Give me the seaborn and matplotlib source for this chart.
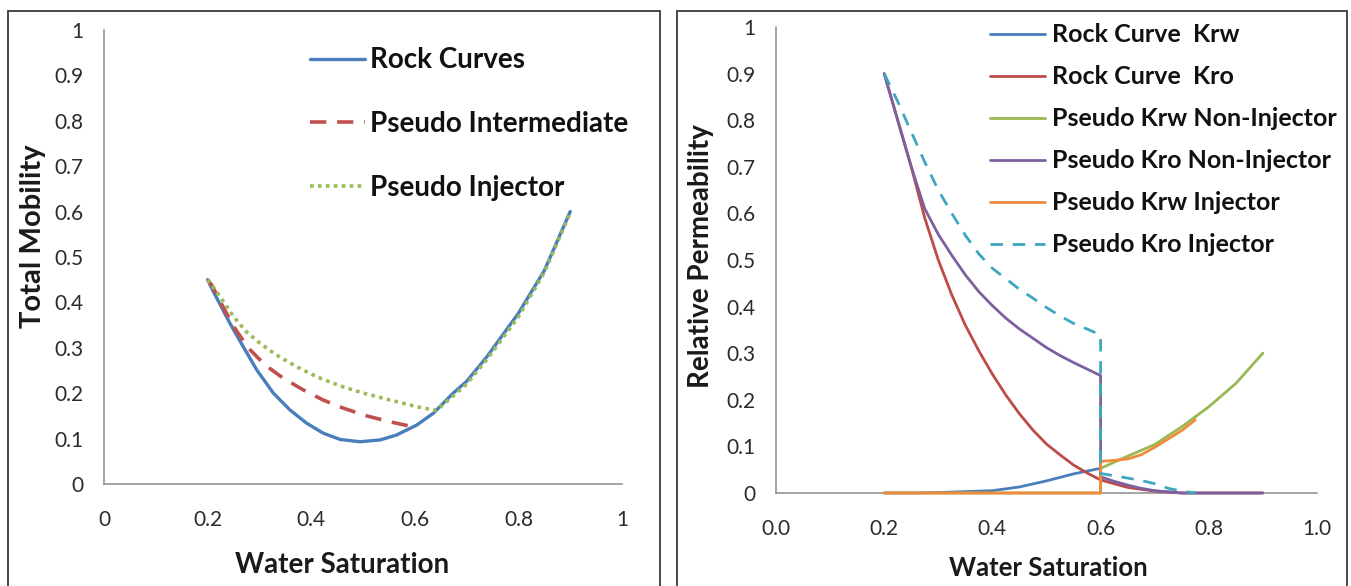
import matplotlib
matplotlib.use("Agg")
import matplotlib.pyplot as plt
from matplotlib.patches import Rectangle
import numpy as np
import pandas as pd
import seaborn as sns

# ---------------- Total mobility vs water saturation ----------------
sw_rock = [0.2, 0.211, 0.243, 0.269, 0.295, 0.327, 0.359, 0.391, 0.423, 0.456, 0.494,
           0.533, 0.565, 0.604, 0.636, 0.674, 0.7, 0.739, 0.8, 0.85, 0.9]
mob_rock = [0.45, 0.424, 0.354, 0.302, 0.251, 0.2, 0.163, 0.134, 0.112, 0.098, 0.093,
            0.097, 0.108, 0.13, 0.156, 0.2, 0.226, 0.28, 0.376, 0.47, 0.6]

sw_inter = [0.2, 0.208, 0.23, 0.25, 0.279, 0.311, 0.346, 0.385, 0.423, 0.462, 0.507, 0.552, 0.6]
mob_inter = [0.45, 0.438, 0.39, 0.347, 0.299, 0.262, 0.233, 0.207, 0.185, 0.167, 0.15, 0.137, 0.125]

sw_inj = [0.2, 0.224, 0.25, 0.275, 0.301, 0.333, 0.372, 0.411, 0.456, 0.501, 0.552, 0.604,
          0.642, 0.674, 0.7, 0.739, 0.8, 0.85, 0.9]
mob_inj = [0.45, 0.413, 0.369, 0.335, 0.31, 0.284, 0.258, 0.236, 0.216, 0.2, 0.185, 0.17,
           0.162, 0.194, 0.22, 0.274, 0.368, 0.466, 0.597]

# ---------------- Relative permeability curves ----------------
sw_krw_rock = [0.2, 0.25, 0.3, 0.35, 0.4, 0.45, 0.5, 0.55, 0.6]
krw_rock = [0.0, 0.0, 0.001, 0.003, 0.005, 0.013, 0.026, 0.041, 0.053]

sw_kro_rock = [0.2, 0.225, 0.25, 0.275, 0.3, 0.325, 0.35, 0.375, 0.4, 0.425, 0.45, 0.475,
               0.5, 0.525, 0.55, 0.575, 0.6, 0.65, 0.7, 0.75, 0.8, 0.9]
kro_rock = [0.9, 0.8, 0.7, 0.59, 0.5, 0.425, 0.36, 0.305, 0.255, 0.21, 0.17, 0.135,
            0.105, 0.082, 0.06, 0.043, 0.028, 0.012, 0.004, 0.0, 0.0, 0.0]

sw_krw_noninj = [0.2, 0.3, 0.4, 0.5, 0.6, 0.6, 0.65, 0.7, 0.75, 0.8, 0.85, 0.9]
krw_noninj = [0.0, 0.0, 0.0, 0.0, 0.0, 0.053, 0.079, 0.104, 0.142, 0.185, 0.235, 0.3]

sw_kro_noninj = [0.2, 0.225, 0.25, 0.275, 0.3, 0.325, 0.35, 0.375, 0.4, 0.425, 0.45, 0.475,
                 0.5, 0.525, 0.55, 0.575, 0.6, 0.6, 0.625, 0.65, 0.675, 0.7, 0.75, 0.8, 0.85, 0.9]
kro_noninj = [0.9, 0.8, 0.7, 0.61, 0.555, 0.51, 0.468, 0.432, 0.402, 0.375, 0.352, 0.332,
              0.312, 0.295, 0.28, 0.266, 0.252, 0.035, 0.025, 0.017, 0.01, 0.005, 0.0, 0.0, 0.0, 0.0]

sw_krw_inj = [0.2, 0.3, 0.4, 0.5, 0.6, 0.6, 0.625, 0.65, 0.675, 0.7, 0.725, 0.75, 0.775]
krw_inj = [0.0, 0.0, 0.0, 0.0, 0.0, 0.068, 0.07, 0.073, 0.082, 0.098, 0.116, 0.134, 0.157]

sw_kro_inj = [0.2, 0.225, 0.25, 0.275, 0.3, 0.325, 0.35, 0.375, 0.4, 0.425, 0.45, 0.475,
              0.5, 0.525, 0.55, 0.575, 0.6, 0.6, 0.625, 0.65, 0.675, 0.7, 0.725, 0.75, 0.775]
kro_inj = [0.9, 0.84, 0.775, 0.71, 0.65, 0.6, 0.553, 0.513, 0.482, 0.46, 0.437, 0.418,
           0.398, 0.38, 0.364, 0.352, 0.339, 0.042, 0.037, 0.032, 0.027, 0.02, 0.01, 0.004, 0.0]

left_ticks = [0, 0.1, 0.2, 0.3, 0.4, 0.5, 0.6, 0.7, 0.8, 0.9, 1]
left_ticklabels = ["0", "0.1", "0.2", "0.3", "0.4", "0.5", "0.6", "0.7", "0.8", "0.9", "1"]
left_xticks = [0, 0.2, 0.4, 0.6, 0.8, 1]
left_xticklabels = ["0", "0.2", "0.4", "0.6", "0.8", "1"]
right_xticklabels = ["0.0", "0.2", "0.4", "0.6", "0.8", "1.0"]

sns.set_style("white")
plt.rcParams["font.family"] = ["Lato", "DejaVu Sans"]

fig = plt.figure(figsize=(13.51, 5.86), dpi=100)
ax1 = fig.add_axes([0.0770, 0.1741, 0.3834, 0.7747])
ax2 = fig.add_axes([0.5744, 0.1587, 0.4004, 0.7952])

# Panel frames
for x0, x1 in [(8, 660), (677, 1347)]:
    fig.patches.append(Rectangle((x0 / 1351, -0.02), (x1 - x0) / 1351, 1.02 - 11 / 586,
                                 transform=fig.transFigure, fill=False,
                                 edgecolor="#3a3a3a", lw=1.3))

def line(ax, x, y, color, label, lw=2.0, **kw):
    sns.lineplot(x=x, y=y, ax=ax, color=color, lw=lw, label=label,
                 estimator=None, sort=False, zorder=3, clip_on=False, **kw)

# Left panel
line(ax1, sw_rock, mob_rock, "#4A7EBB", "Rock Curves", lw=2.4)
line(ax1, sw_inter, mob_inter, "#C0504D", "Pseudo Intermediate", lw=2.6,
     linestyle=(0, (4.5, 3)))
line(ax1, sw_inj, mob_inj, "#9BBB59", "Pseudo Injector", lw=2.6,
     linestyle=(0, (1, 1.2)))

# Right panel
line(ax2, sw_krw_rock, krw_rock, "#4A7EBB", "Rock Curve  Krw")
line(ax2, sw_kro_rock, kro_rock, "#BE4B48", "Rock Curve  Kro")
line(ax2, sw_krw_noninj, krw_noninj, "#98B954", "Pseudo Krw Non-Injector")
line(ax2, sw_kro_noninj, kro_noninj, "#7D60A0", "Pseudo Kro Non-Injector")
line(ax2, sw_krw_inj, krw_inj, "#F08A3C", "Pseudo Krw Injector")
line(ax2, sw_kro_inj, kro_inj, "#3FA6C0", "Pseudo Kro Injector",
     linestyle=(0, (4.5, 3.5)))

tick_color = "#2b2b2b"
for ax in (ax1, ax2):
    ax.set_xlim(0, 1)
    ax.set_ylim(0, 1)
    ax.set_yticks(left_ticks)
    ax.set_yticklabels(left_ticklabels)
    ax.set_xticks(left_xticks)
    for side in ("top", "right"):
        ax.spines[side].set_visible(False)
    for side in ("left", "bottom"):
        ax.spines[side].set_color("#8c8c8c")
        ax.spines[side].set_linewidth(1.1)
    ax.tick_params(axis="both", length=0, labelsize=15, labelcolor=tick_color)
    ax.tick_params(axis="y", pad=15)
    ax.tick_params(axis="x", pad=19)
    ax.set_facecolor("white")

ax1.set_xticklabels(left_xticklabels)
ax2.set_xticklabels(right_xticklabels)

ax1.set_xlabel("Water Saturation", fontsize=20, fontweight="bold", color="#1a1a1a")
ax1.set_ylabel("Total Mobility", fontsize=21, fontweight="bold", color="#1a1a1a")
ax1.xaxis.set_label_coords(0.46, -0.15)
ax1.yaxis.set_label_coords(-0.112, 0.546)

ax2.set_xlabel("Water Saturation", fontsize=18.5, fontweight="bold", color="#1a1a1a")
ax2.set_ylabel("Relative Permeability", fontsize=20, fontweight="bold", color="#1a1a1a")
ax2.xaxis.set_label_coords(0.503, -0.135)
ax2.yaxis.set_label_coords(-0.115, 0.509)

leg1 = ax1.legend(loc="upper left", bbox_to_anchor=(0.398, 0.962), frameon=False,
                  prop={"size": 20, "weight": "bold"}, handlelength=1.98,
                  handletextpad=0.18, labelspacing=1.36, borderpad=0, borderaxespad=0)
leg2 = ax2.legend(loc="upper left", bbox_to_anchor=(0.396, 1.008), frameon=False,
                  prop={"size": 18, "weight": "bold"}, handlelength=2.2,
                  handletextpad=0.28, labelspacing=0.76, borderpad=0, borderaxespad=0)
for leg in (leg1, leg2):
    for t in leg.get_texts():
        t.set_color("#111111")

fig.savefig("out.png", dpi=100, facecolor="white")
